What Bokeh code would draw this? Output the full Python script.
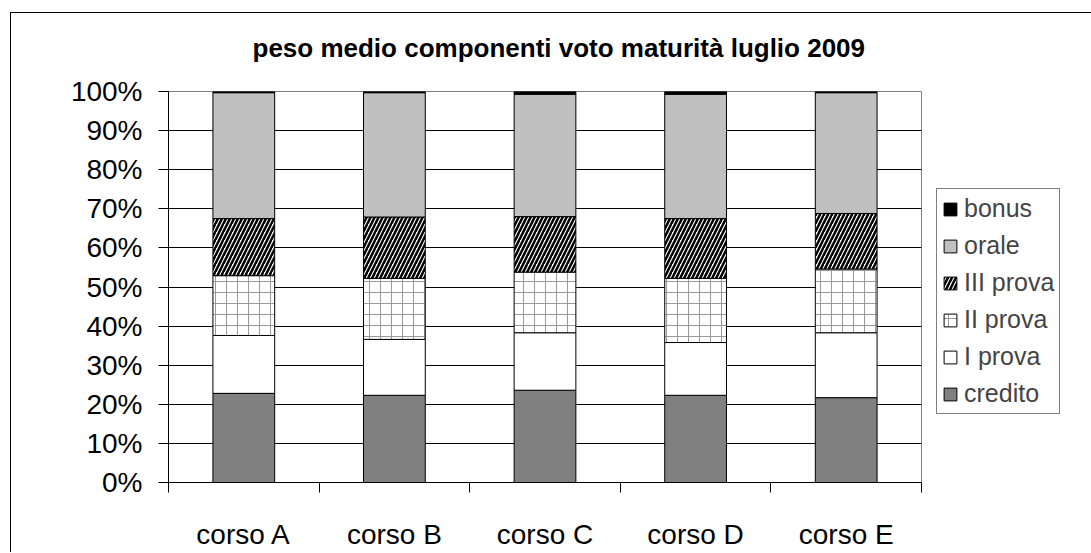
from bokeh.plotting import figure
from bokeh.models import (FixedTicker, PrintfTickFormatter, Legend, LegendItem,
                          ColumnDataSource, Title)
from bokeh.embed import file_html
from bokeh.resources import INLINE

categories = ["corso A", "corso B", "corso C", "corso D", "corso E"]
series = ["credito", "I prova", "II prova", "III prova", "orale", "bonus"]
credito = [22.8, 22.3, 23.6, 22.3, 21.7]
i_prova = [14.8, 14.3, 14.7, 13.5, 16.6]
ii_prova = [15.3, 15.6, 15.5, 16.4, 16.3]
iii_prova = [14.6, 15.7, 14.2, 15.3, 14.2]
orale = [32.2, 31.8, 31.3, 31.8, 30.9]
bonus = [0.3, 0.3, 0.7, 0.7, 0.3]
y_ticks = [0, 10, 20, 30, 40, 50, 60, 70, 80, 90, 100]
title_text = "peso medio componenti voto maturità luglio 2009"

FONT = "Liberation Sans"

positions = [i + 1 for i in range(len(categories))]
bounds = [i + 0.5 for i in range(len(categories) + 1)]

source = ColumnDataSource(dict(
    x=positions,
    credito=credito, **{"I prova": i_prova, "II prova": ii_prova, "III prova": iii_prova},
    orale=orale, bonus=bonus,
))

left, top, fw, fh = 168, 91, 753, 391

p = figure(frame_width=fw, frame_height=fh,
           x_range=(0.5, len(categories) + 0.5), y_range=(0, 100),
           output_backend="svg", toolbar_location=None,
           min_border_left=left, min_border_top=top,
           min_border_right=1088 - left - fw, min_border_bottom=0)
# outer chart-area frame (top and left edges; the others lie outside the view)
p.styles = {
    "background": ("linear-gradient(#000,#000) 10px 12px / calc(100% - 10px) 1px no-repeat, "
                   "linear-gradient(#000,#000) 10px 12px / 1px calc(100% - 12px) no-repeat, "
                   "#ffffff"),
}
p.border_fill_color = None

p.title = Title(text=title_text, align="left", text_font_size="26px",
                text_font_style="bold", text_font=FONT, text_color="black",
                standoff=58, offset=84)

fills = ["#808080", "#ffffff", "#ffffff", "#ffffff", "#c0c0c0", "#000000"]
hatches = [" ", " ", "+", "/", " ", " "]
hatch_colors = ["black", "black", "#9a9a9a", "black", "black", "black"]
hatch_scales = [12, 12, 11, 8, 12, 12]
hatch_weights = [1, 1, 1, 2.5, 1, 1]

renderers = p.vbar_stack(series, x="x", width=0.41, source=source,
                         fill_color=fills, line_color="black", line_width=1,
                         hatch_pattern=hatches, hatch_color=hatch_colors,
                         hatch_scale=hatch_scales, hatch_weight=hatch_weights)

items = [LegendItem(label=s, renderers=[r]) for s, r in zip(series, renderers)][::-1]
legend = Legend(items=items, location=(15, 68), border_line_color="black",
                border_line_width=1, background_fill_color="white",
                glyph_width=16, glyph_height=16, label_text_font_size="25px",
                label_text_font=FONT, label_standoff=6, padding=5, spacing=8,
                margin=0)
p.add_layout(legend, "right")

# y axis
p.yaxis.ticker = FixedTicker(ticks=y_ticks, minor_ticks=[])
p.yaxis.formatter = PrintfTickFormatter(format="%d%%")
p.yaxis.major_tick_out = 10
p.yaxis.major_tick_in = 0
p.yaxis.minor_tick_out = 0
p.yaxis.minor_tick_in = 0
p.yaxis.major_label_standoff = 16
p.yaxis.major_label_text_font_size = "28px"
p.yaxis.major_label_text_font = FONT
p.yaxis.major_label_text_color = "black"
p.yaxis.axis_line_color = "black"
p.yaxis.major_tick_line_color = "black"

# x axis
p.xaxis.ticker = FixedTicker(ticks=positions, minor_ticks=bounds)
p.xaxis.major_label_overrides = {pos: c for pos, c in zip(positions, categories)}
p.xaxis.major_tick_out = 0
p.xaxis.major_tick_in = 0
p.xaxis.minor_tick_out = 10
p.xaxis.minor_tick_in = 0
p.xaxis.minor_tick_line_color = "black"
p.xaxis.major_label_standoff = 26
p.xaxis.major_label_text_font_size = "28px"
p.xaxis.major_label_text_font = FONT
p.xaxis.major_label_text_color = "black"
p.xaxis.axis_line_color = "black"

p.xgrid.visible = False
p.ygrid.ticker = FixedTicker(ticks=y_ticks, minor_ticks=[])
p.ygrid.grid_line_color = "black"
p.ygrid.grid_line_width = 1

p.outline_line_color = "#808080"
p.outline_line_width = 1
p.background_fill_color = "white"

open("out.html", "w").write(file_html(p, INLINE))
